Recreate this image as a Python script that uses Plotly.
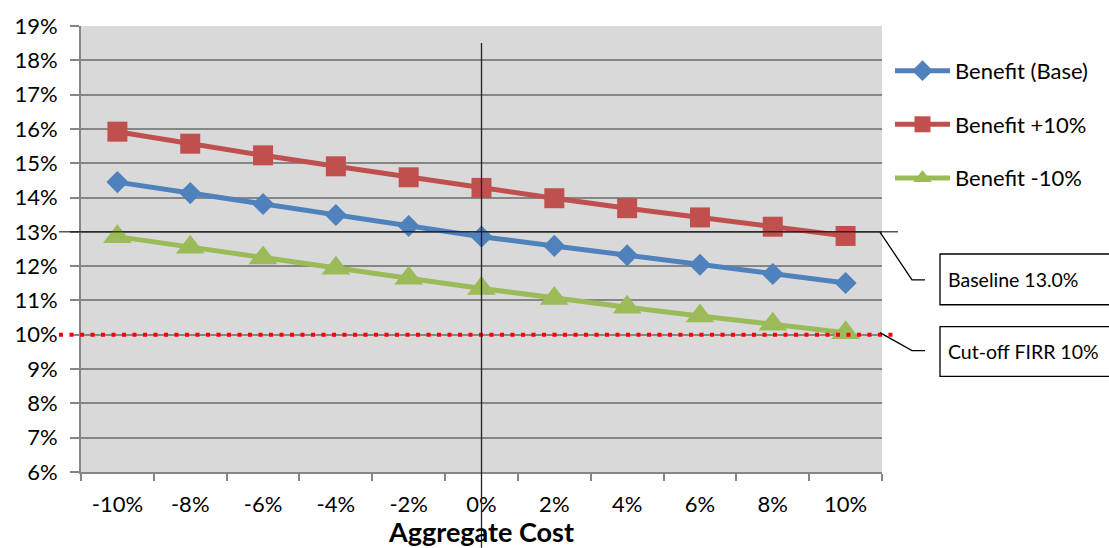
import plotly.graph_objects as go

# Aggregate cost sensitivity categories
cost_change = ["-10%", "-8%", "-6%", "-4%", "-2%", "0%", "2%", "4%", "6%", "8%", "10%"]

# FIRR (%) for each benefit scenario
benefit_base = [14.45, 14.13, 13.81, 13.49, 13.17, 12.86, 12.59, 12.32, 12.04, 11.77, 11.51]
benefit_plus10 = [15.92, 15.57, 15.23, 14.91, 14.59, 14.28, 13.98, 13.69, 13.42, 13.15, 12.88]
benefit_minus10 = [12.86, 12.55, 12.24, 11.94, 11.65, 11.35, 11.06, 10.80, 10.55, 10.31, 10.06]

baseline_firr = 13.0
cutoff_firr = 10.0

y_ticks = list(range(6, 20))
y_tick_labels = [f"{v}%" for v in y_ticks]

W, H = 1109, 548
L, R, T, B = 81, 227, 24, 76
PW, PH = W - L - R, H - T - B


def px(x):
    return (x - L) / PW


def py(y):
    return (H - B - y) / PH


FONT = "Lato"

fig = go.Figure()

series = [
    ("Benefit (Base)", benefit_base, "#4F81BD", "diamond", 17),
    ("Benefit +10%", benefit_plus10, "#C0504D", "square", 20),
    ("Benefit -10%", benefit_minus10, "#9BBB59", "triangle-up", 25),
]
for i, (name, vals, color, sym, size) in enumerate(series):
    fig.add_trace(go.Scatter(
        x=cost_change, y=vals, name=name, mode="lines+markers",
        line=dict(color=color, width=5),
        marker=dict(symbol=sym, size=size, color=color, line=dict(width=0)),
        legendgroup=f"g{i}",
    ))

shapes = []
# baseline FIRR reference line
shapes.append(dict(type="line", xref="paper", yref="y", x0=px(59), x1=px(898),
                   y0=baseline_firr, y1=baseline_firr,
                   line=dict(color="#000000", width=1)))
# cut-off FIRR line
shapes.append(dict(type="line", xref="paper", yref="y", x0=px(59), x1=px(897),
                   y0=cutoff_firr, y1=cutoff_firr,
                   line=dict(color="#FF0000", width=4, dash="4px,6.5px")))
# zero cost change marker line
zero_idx = cost_change.index("0%")
shapes.append(dict(type="line", xref="x", yref="paper", x0=zero_idx, x1=zero_idx,
                   y0=py(548), y1=py(41),
                   line=dict(color="#222222", width=1.3)))

# callout boxes and leader lines
for top, bottom, ly0, ly1 in [(253, 304, 231, 279), (326, 376, 332, 350)]:
    shapes.append(dict(type="rect", xref="paper", yref="paper",
                       x0=px(940), x1=px(1120), y0=py(bottom), y1=py(top),
                       line=dict(color="#000000", width=1.3), fillcolor="#FFFFFF"))
    shapes.append(dict(type="path", xref="paper", yref="paper",
                       path=f"M {px(880)} {py(ly0)} L {px(912)} {py(ly1)} L {px(925)} {py(ly1)}",
                       line=dict(color="#000000", width=1.3)))

annotations = [
    dict(xref="paper", yref="paper", x=px(946), y=py(279), text="Baseline 13.0%",
         showarrow=False, xanchor="left", yanchor="middle",
         font=dict(family=FONT, size=19.5, color="#000000")),
    dict(xref="paper", yref="paper", x=px(946), y=py(351), text="Cut-off FIRR 10%",
         showarrow=False, xanchor="left", yanchor="middle",
         font=dict(family=FONT, size=19.5, color="#000000")),
]

fig.update_layout(
    width=W, height=H,
    margin=dict(l=L, r=R, t=T, b=B, pad=0),
    paper_bgcolor="#FFFFFF",
    plot_bgcolor="#D9D9D9",
    font=dict(family=FONT, size=22, color="#000000"),
    shapes=shapes,
    annotations=annotations,
    legend=dict(x=px(890), y=py(48), xanchor="left", yanchor="top",
                font=dict(family=FONT, size=22, color="#000000"),
                bgcolor="rgba(0,0,0,0)", tracegroupgap=22, itemwidth=55,
                traceorder="grouped"),
    xaxis=dict(
        type="category", range=[-0.5, len(cost_change) - 0.5],
        tickson="boundaries", ticks="outside", ticklen=7, tickwidth=2,
        tickcolor="#868686", showline=True, linecolor="#868686", linewidth=2,
        showgrid=False, zeroline=False,
        tickfont=dict(family=FONT, size=22, color="#000000"),
        ticklabelstandoff=12,
        title=dict(text="<b>Aggregate Cost</b>", standoff=0,
                   font=dict(family=FONT, size=27, color="#000000")),
    ),
    yaxis=dict(
        range=[6, 19], tickvals=y_ticks, ticktext=y_tick_labels,
        ticks="outside", ticklen=9, tickwidth=2, tickcolor="#868686",
        showline=True, linecolor="#868686", linewidth=2,
        showgrid=True, gridcolor="#868686", gridwidth=2, zeroline=False,
        tickfont=dict(family=FONT, size=22, color="#000000"),
        ticklabelstandoff=8,
    ),
)

fig.write_html("out.html")
